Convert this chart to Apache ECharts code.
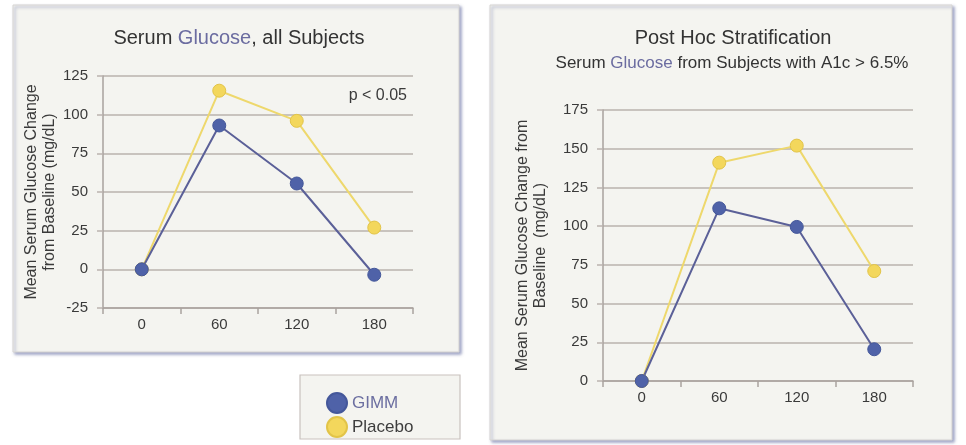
<!DOCTYPE html>
<html><head><meta charset="utf-8">
<script src="https://cdn.jsdelivr.net/npm/echarts@6/dist/echarts.min.js"></script>
<style>html,body{margin:0;padding:0;background:#fff}#c{width:966px;height:445px}</style>
</head><body><div id="c"></div>
<script>
const categories = ['0', '60', '120', '180'];
const allGIMM = [0, 93, 55.5, -3.5];
const allPlacebo = [0, 115.5, 96, 27];
const stratGIMM = [0, 111.5, 99.5, 20.5];
const stratPlacebo = [0, 141, 152, 71];
const leftTicks = {min: -25, max: 125, interval: 25};
const rightTicks = {min: 0, max: 175, interval: 25};

const FONT = '"Liberation Sans", Arial, sans-serif';
const GRID_C = '#bab3ae';
const AXIS_C = '#a9a29e';
const LBL_C = '#3a3a3a';
const GIMM_LINE = '#5b6098', GIMM_FILL = '#4f62a8';
const PLA_LINE = '#eed86c', PLA_FILL = '#f3d75c';

function xAx(gi) {
  return {
    type: 'category', gridIndex: gi, data: categories, boundaryGap: true,
    axisLine: {show: true, onZero: false, lineStyle: {color: AXIS_C, width: 1.5}},
    axisTick: {show: true, length: 6, lineStyle: {color: AXIS_C, width: 1.5}},
    axisLabel: {color: LBL_C, fontFamily: FONT, fontSize: 15, margin: 9},
    splitLine: {show: false}
  };
}
function yAx(gi, t, name, gap) {
  return {
    type: 'value', gridIndex: gi, min: t.min, max: t.max, interval: t.interval,
    name: name, nameLocation: 'middle', nameGap: gap, nameRotate: 90,
    nameTextStyle: {color: LBL_C, fontFamily: FONT, fontSize: 16, lineHeight: 18},
    axisLine: {show: true, lineStyle: {color: AXIS_C, width: 1.5}},
    axisTick: {show: true, length: 6, lineStyle: {color: GRID_C, width: 1.5}},
    axisLabel: {color: LBL_C, fontFamily: FONT, fontSize: 15, margin: 15},
    splitLine: {show: true, lineStyle: {color: GRID_C, width: 1.5}}
  };
}
function ser(name, data, gi, lc, fc, bc) {
  return {
    name: name, type: 'line', xAxisIndex: gi, yAxisIndex: gi, data: data,
    symbol: 'circle', symbolSize: 13,
    lineStyle: {color: lc, width: 2},
    itemStyle: {color: fc, borderColor: bc, borderWidth: 1},
    emphasis: {disabled: true}, animation: false
  };
}

const chart = echarts.init(document.getElementById('c'), null, {renderer: 'canvas'});
chart.setOption({
  backgroundColor: '#ffffff',
  animation: false,
  graphic: [
    {type: 'rect', z: -10, shape: {x: 13, y: 5, width: 446, height: 347},
     style: {fill: '#f4f4f0', stroke: '#d6d4d2', lineWidth: 1, shadowBlur: 3, shadowOffsetX: 2, shadowOffsetY: 2, shadowColor: 'rgba(80,90,150,0.55)'}},
    {type: 'rect', z: -10, shape: {x: 490, y: 5, width: 462, height: 435},
     style: {fill: '#f4f4f0', stroke: '#d6d4d2', lineWidth: 1, shadowBlur: 3, shadowOffsetX: 2, shadowOffsetY: 2, shadowColor: 'rgba(80,90,150,0.55)'}},
    {type: 'rect', z: -10, shape: {x: 300, y: 375, width: 160, height: 64},
     style: {fill: '#f4f4f0', stroke: '#c9c2be', lineWidth: 1.2}},
    {type: 'text', z: 10, x: 407, y: 96,
     style: {text: 'p < 0.05', fill: LBL_C, font: '16px ' + FONT, align: 'right', verticalAlign: 'middle'}}
  ],
  title: [
    {text: '{a|Serum }{g|Glucose}{a|, all Subjects}', left: 234, top: 23, textAlign: 'center',
     textStyle: {rich: {a: {fontFamily: FONT, fontSize: 20, fontWeight: 'normal', color: '#333'}, g: {fontFamily: FONT, fontSize: 20, fontWeight: 'normal', color: '#6b6ca0'}}}},
    {text: 'Post Hoc Stratification', left: 728, top: 23, textAlign: 'center',
     textStyle: {fontFamily: FONT, fontSize: 20, fontWeight: 'normal', color: '#333'}},
    {text: '{a|Serum }{g|Glucose}{a| from Subjects with A1c > 6.5%}', left: 727, top: 50, textAlign: 'center',
     textStyle: {rich: {a: {fontFamily: FONT, fontSize: 17, fontWeight: 'normal', color: '#333'}, g: {fontFamily: FONT, fontSize: 17, fontWeight: 'normal', color: '#6b6ca0'}}}}
  ],
  legend: {
    orient: 'vertical', left: 321, top: 387, icon: 'circle', itemWidth: 20, itemHeight: 20, itemGap: 2,
    selectedMode: false,
    textStyle: {fontFamily: FONT, fontSize: 17},
    data: [
      {name: 'GIMM', textStyle: {color: '#6b6ea0'}},
      {name: 'Placebo', textStyle: {color: '#3d3d3d'}}
    ]
  },
  grid: [
    {left: 103, right: 553, top: 76, bottom: 137},
    {left: 603, right: 53, top: 110, bottom: 64}
  ],
  xAxis: [xAx(0), xAx(1)],
  yAxis: [
    yAx(0, leftTicks, 'Mean Serum Glucose Change\nfrom Baseline (mg/dL)', 42),
    yAx(1, rightTicks, 'Mean Serum Glucose Change from\nBaseline  (mg/dL)', 53)
  ],
  series: [
    ser('Placebo', allPlacebo, 0, PLA_LINE, PLA_FILL, '#e2c448'),
    ser('GIMM', allGIMM, 0, GIMM_LINE, GIMM_FILL, '#44579a'),
    ser('Placebo', stratPlacebo, 1, PLA_LINE, PLA_FILL, '#e2c448'),
    ser('GIMM', stratGIMM, 1, GIMM_LINE, GIMM_FILL, '#44579a')
  ]
});
</script></body></html>
